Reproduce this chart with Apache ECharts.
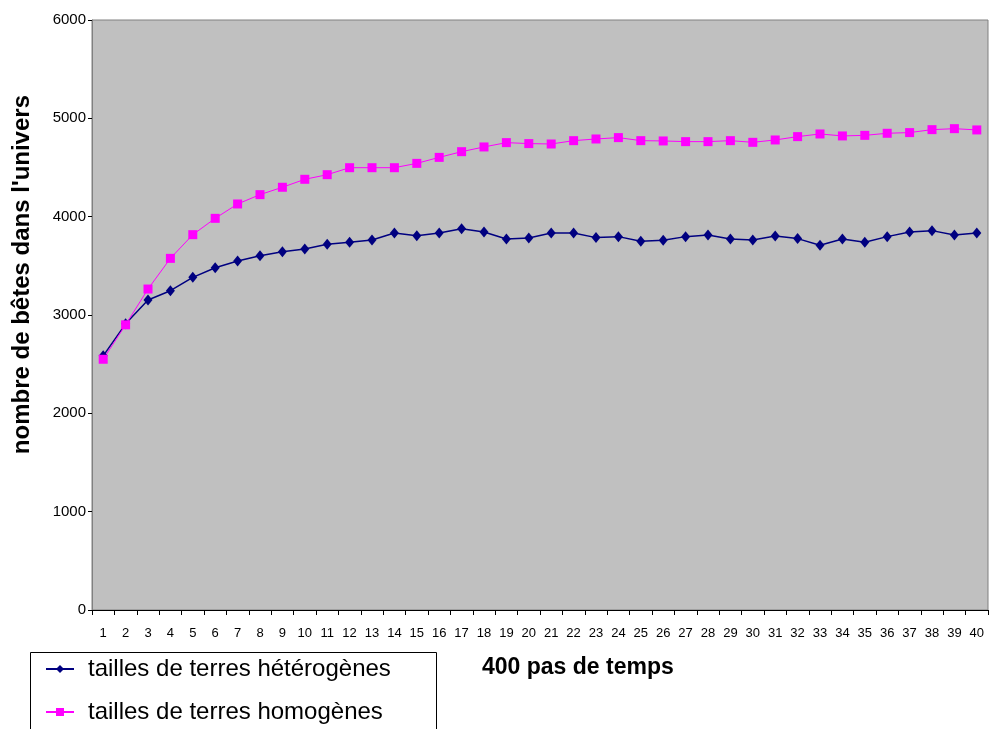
<!DOCTYPE html>
<html>
<head>
<meta charset="utf-8">
<title>nombre de bêtes dans l'univers</title>
<script src="https://cdn.jsdelivr.net/npm/echarts@6/dist/echarts.min.js"></script>
<style>
  html, body { margin: 0; padding: 0; background: #fff; }
  #chart { width: 989px; height: 729px; }
</style>
</head>
<body>
<div id="chart"></div>
<script>
// 40 pas (x 10 = 400 pas de temps)
const steps = [];
for (let i = 1; i <= 40; i++) steps.push(String(i));

const heterogenes = [
  2585, 2910, 3153, 3247, 3383, 3481, 3549, 3603, 3644, 3671,
  3719, 3739, 3763, 3834, 3807, 3834, 3878, 3844, 3773, 3783,
  3834, 3834, 3787, 3797, 3749, 3760, 3797, 3814, 3773, 3763,
  3804, 3777, 3709, 3773, 3739, 3797, 3844, 3858, 3814, 3834
];
const homogenes = [
  2550, 2900, 3264, 3576, 3817, 3983, 4129, 4224, 4299, 4380,
  4427, 4498, 4498, 4498, 4542, 4603, 4661, 4709, 4753, 4743,
  4739, 4773, 4790, 4804, 4773, 4770, 4763, 4763, 4773, 4756,
  4780, 4814, 4841, 4821, 4827, 4848, 4855, 4885, 4895, 4882
];
const yTicks = [0, 6000, 1000]; // min, max, interval

const chart = echarts.init(document.getElementById('chart'));
const font = 'Liberation Sans, Arial, sans-serif';

const option = {
  backgroundColor: '#ffffff',
  animation: false,
  textStyle: { fontFamily: font },
  grid: {
    left: 92, top: 20, right: 1, bottom: 119,
    show: true,
    backgroundColor: '#c0c0c0',
    borderColor: '#808080',
    borderWidth: 1
  },
  // legend box drawn as a rect below, it runs past the bottom edge
  legend: {
    orient: 'vertical',
    left: 30,
    top: 652,
    itemWidth: 28,
    itemHeight: 10,
    itemGap: 19,
    padding: [5, 0, 0, 15],
    textStyle: { fontFamily: font, fontSize: 24, lineHeight: 24, color: '#000', padding: [0, 0, 0, 9] },
    data: ['tailles de terres hétérogènes', 'tailles de terres homogènes']
  },
  xAxis: {
    type: 'category',
    data: steps,
    boundaryGap: true,
    axisLine: { lineStyle: { color: '#000', width: 1 } },
    axisTick: { show: true, length: 5, lineStyle: { color: '#000' } },
    axisLabel: { interval: 0, color: '#000', fontSize: 13, margin: 17, fontFamily: font },
    splitLine: { show: false }
  },
  yAxis: {
    type: 'value',
    min: yTicks[0],
    max: yTicks[1],
    interval: yTicks[2],
    axisLine: { show: true, lineStyle: { color: '#808080', width: 1 } },
    axisTick: { show: true, length: 4, lineStyle: { color: '#000' } },
    axisLabel: {
      color: '#000', fontSize: 15, margin: 6, fontFamily: font,
      formatter: function (v) { return String(v); }
    },
    splitLine: { show: false }
  },
  graphic: [
    {
      type: 'rect',
      left: 30, top: 652,
      shape: { width: 406, height: 100 },
      style: { fill: '#fff', stroke: '#000', lineWidth: 1 },
      z: -1
    },
    {
      type: 'text',
      left: 10, top: 95,
      rotation: Math.PI / 2,
      style: {
        text: "nombre de bêtes dans l'univers",
        font: 'bold 24px ' + font,
        fill: '#000'
      },
      z: 10
    },
    {
      type: 'text',
      left: 482, top: 656,
      style: {
        text: '400 pas de temps',
        font: 'bold 23px ' + font,
        fill: '#000'
      }
    }
  ],
  series: [
    {
      name: 'tailles de terres hétérogènes',
      type: 'line',
      data: heterogenes,
      symbol: 'diamond',
      symbolSize: [9, 11],
      itemStyle: { color: '#000080' },
      lineStyle: { color: '#000080', width: 1.5 }
    },
    {
      name: 'tailles de terres homogènes',
      type: 'line',
      data: homogenes,
      symbol: 'rect',
      symbolSize: 9,
      itemStyle: { color: '#ff00ff' },
      lineStyle: { color: '#ff00ff', width: 1 }
    }
  ]
};

chart.setOption(option);
</script>
</body>
</html>
